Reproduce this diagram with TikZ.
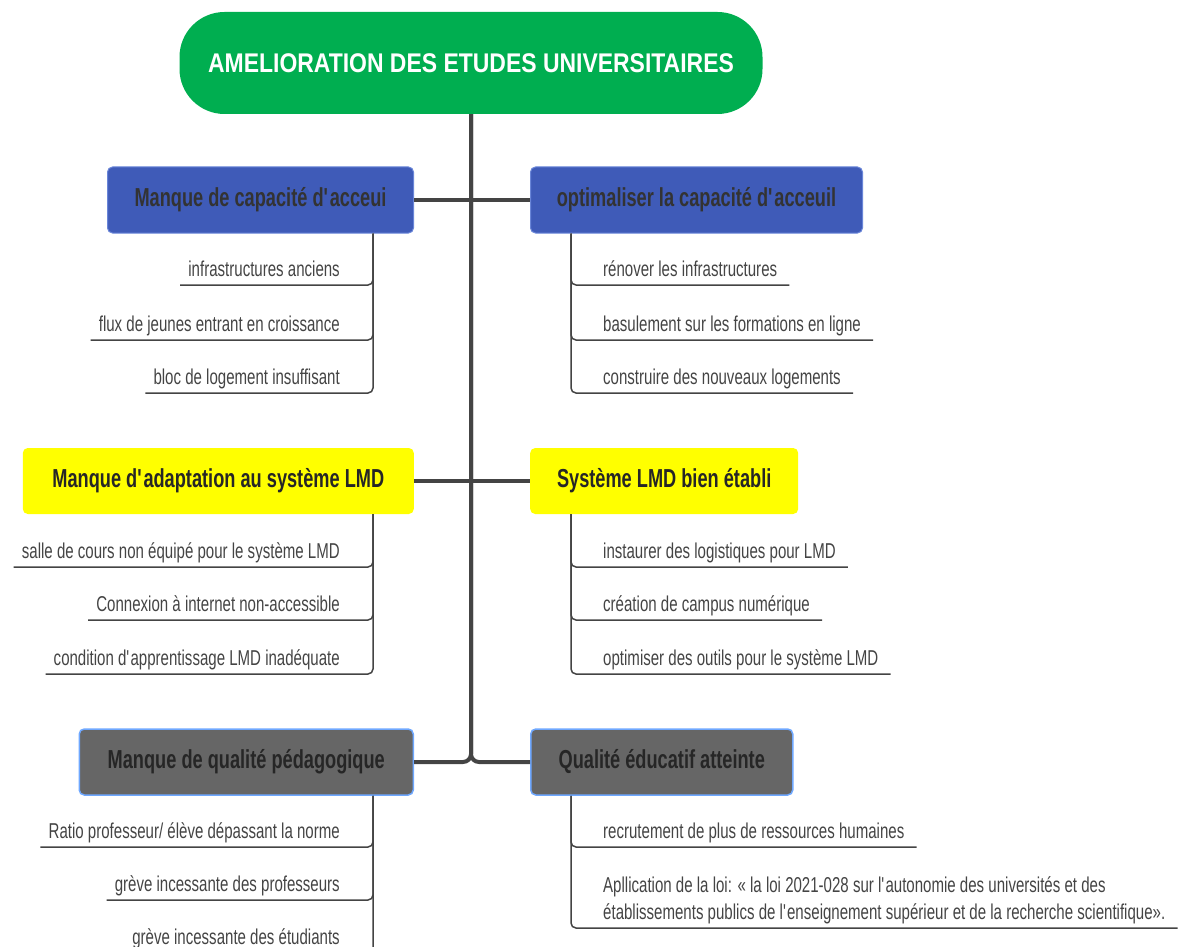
\documentclass[tikz,border=0pt]{standalone}
\usepackage{fontspec}
\setmainfont{Liberation Sans}[FakeStretch=0.7]
\newfontfamily\rootfont{Liberation Sans}[FakeStretch=0.85]
\usepackage{tikz}
\usetikzlibrary{positioning,calc}
\definecolor{rootgreen}{HTML}{00AE50}
\definecolor{capblue}{HTML}{3F5BB8}
\definecolor{capedge}{HTML}{6A86D8}
\definecolor{lmdyellow}{HTML}{FFFF00}
\definecolor{qualgray}{HTML}{666666}
\definecolor{qualedge}{HTML}{6FA8FF}
\definecolor{trunkgray}{HTML}{444444}
\definecolor{subgray}{HTML}{444444}
\definecolor{vertgray}{HTML}{808080}
\newcommand{\ap}{\textquotesingle}
\tikzstyle{root} = [rectangle, fill=rootgreen, text=white, rounded corners=45pt,
    minimum width=583pt, minimum height=102pt, font=\rootfont\bfseries\fontsize{27}{30}\selectfont]
\tikzstyle{branch} = [rectangle, rounded corners=5pt, minimum height=66pt,
    inner xsep=0pt, font=\bfseries\fontsize{26}{28}\selectfont]
\tikzstyle{capbox} = [branch, fill=capblue, draw=capedge, line width=1pt, text=black!80]
\tikzstyle{lmdbox} = [branch, fill=lmdyellow, text=black!85]
\tikzstyle{qualbox} = [branch, fill=qualgray, draw=qualedge, line width=1.5pt, text=black!85]
\tikzstyle{item} = [inner xsep=0pt, inner ysep=4pt, text height=15pt, text depth=4pt,
    text=subgray, font=\fontsize{21.5}{27}\selectfont]
\tikzstyle{trunk} = [draw=trunkgray, line width=4pt]
\tikzstyle{subline} = [draw=subgray, line width=1.5pt, rounded corners=5pt]

\begin{document}
\begin{tikzpicture}[x=1pt, y=-1pt]
    \useasboundingbox (0,0) rectangle (1184,947);
    % Place nodes
    \node [root] (root) at (471,63) {AMELIORATION DES ETUDES UNIVERSITAIRES};

    \node [capbox, anchor=east, minimum width=306pt] (capL) at (414,200) {Manque de capacité d\ap acceui};
    \node [capbox, anchor=west, minimum width=332pt] (capR) at (530,200) {optimaliser la capacité d\ap acceuil};
    \node [lmdbox, anchor=east, minimum width=391pt] (lmdL) at (414,481) {Manque d\ap adaptation au système LMD};
    \node [lmdbox, anchor=west, minimum width=268pt] (lmdR) at (530,481) {Système LMD bien établi};
    \node [qualbox, anchor=east, minimum width=334pt] (qualL) at (414,762) {Manque de qualité pédagogique};
    \node [qualbox, anchor=west, minimum width=262pt] (qualR) at (530,762) {Qualité éducatif atteinte};

    \coordinate (capLv) at ($(capL.south east)+(-41,0)$);
    \coordinate (capRv) at ($(capR.south west)+(41,0)$);
    \coordinate (lmdLv) at ($(lmdL.south east)+(-41,0)$);
    \coordinate (lmdRv) at ($(lmdR.south west)+(41,0)$);
    \coordinate (qualLv) at ($(qualL.south east)+(-41,0)$);
    \coordinate (qualRv) at ($(qualR.south west)+(41,0)$);

    % Items
    \node [item, anchor=south east] (capL1) at (340,285) {infrastructures anciens};
    \node [item, anchor=south east] (capL2) at (340,340) {flux de jeunes entrant en croissance};
    \node [item, anchor=south east] (capL3) at (340,393) {bloc de logement insuffisant};
    \node [item, anchor=south west] (capR1) at (603,285) {rénover les infrastructures};
    \node [item, anchor=south west] (capR2) at (603,340) {basulement sur les formations en ligne};
    \node [item, anchor=south west] (capR3) at (603,393) {construire des nouveaux logements};

    \node [item, anchor=south east] (lmdL1) at (340,567) {salle de cours non équipé pour le système LMD};
    \node [item, anchor=south east] (lmdL2) at (340,620) {Connexion à internet non-accessible};
    \node [item, anchor=south east] (lmdL3) at (340,674) {condition d\ap apprentissage LMD inadéquate};
    \node [item, anchor=south west] (lmdR1) at (603,567) {instaurer des logistiques pour LMD};
    \node [item, anchor=south west] (lmdR2) at (603,620) {création de campus numérique};
    \node [item, anchor=south west] (lmdR3) at (603,674) {optimiser des outils pour le système LMD};

    \node [item, anchor=south east] (qualL1) at (340,847) {Ratio professeur/ élève dépassant la norme};
    \node [item, anchor=south east] (qualL2) at (340,900) {grève incessante des professeurs};
    \node [item, anchor=south east] (qualL3) at (340,953) {grève incessante des étudiants};
    \node [item, anchor=south west] (qualR1) at (603,847) {recrutement de plus de ressources humaines};
    \node [item, anchor=south west, align=left] (qualR2) at (603,928)
        {Apllication de la loi: « la loi 2021-028 sur l\ap autonomie des universités et des\\
         établissements publics de l\ap enseignement supérieur et de la recherche scientifique».};

    % Draw edges
    \draw [trunk, rounded corners=8pt] (qualL.east) -| (root.south);
    \draw [trunk, rounded corners=8pt] (qualR.west) -| (root.south);
    \draw [trunk] (capL.east) -- (capR.west);
    \draw [trunk] (lmdL.east) -- (lmdR.west);

    \foreach \n in {capL1,capL2,capL3}
        \draw [subline] (capLv) |- ($(\n.south west)+(-8,0)$);
    \foreach \n in {capR1,capR2,capR3}
        \draw [subline] (capRv) |- ($(\n.south east)+(12,0)$);
    \foreach \n in {lmdL1,lmdL2,lmdL3}
        \draw [subline] (lmdLv) |- ($(\n.south west)+(-8,0)$);
    \foreach \n in {lmdR1,lmdR2,lmdR3}
        \draw [subline] (lmdRv) |- ($(\n.south east)+(12,0)$);
    \foreach \n in {qualL1,qualL2,qualL3}
        \draw [subline] (qualLv) |- ($(\n.south west)+(-8,0)$);
    \foreach \n in {qualR1,qualR2}
        \draw [subline] (qualRv) |- ($(\n.south east)+(12,0)$);

\end{tikzpicture}
\end{document}
